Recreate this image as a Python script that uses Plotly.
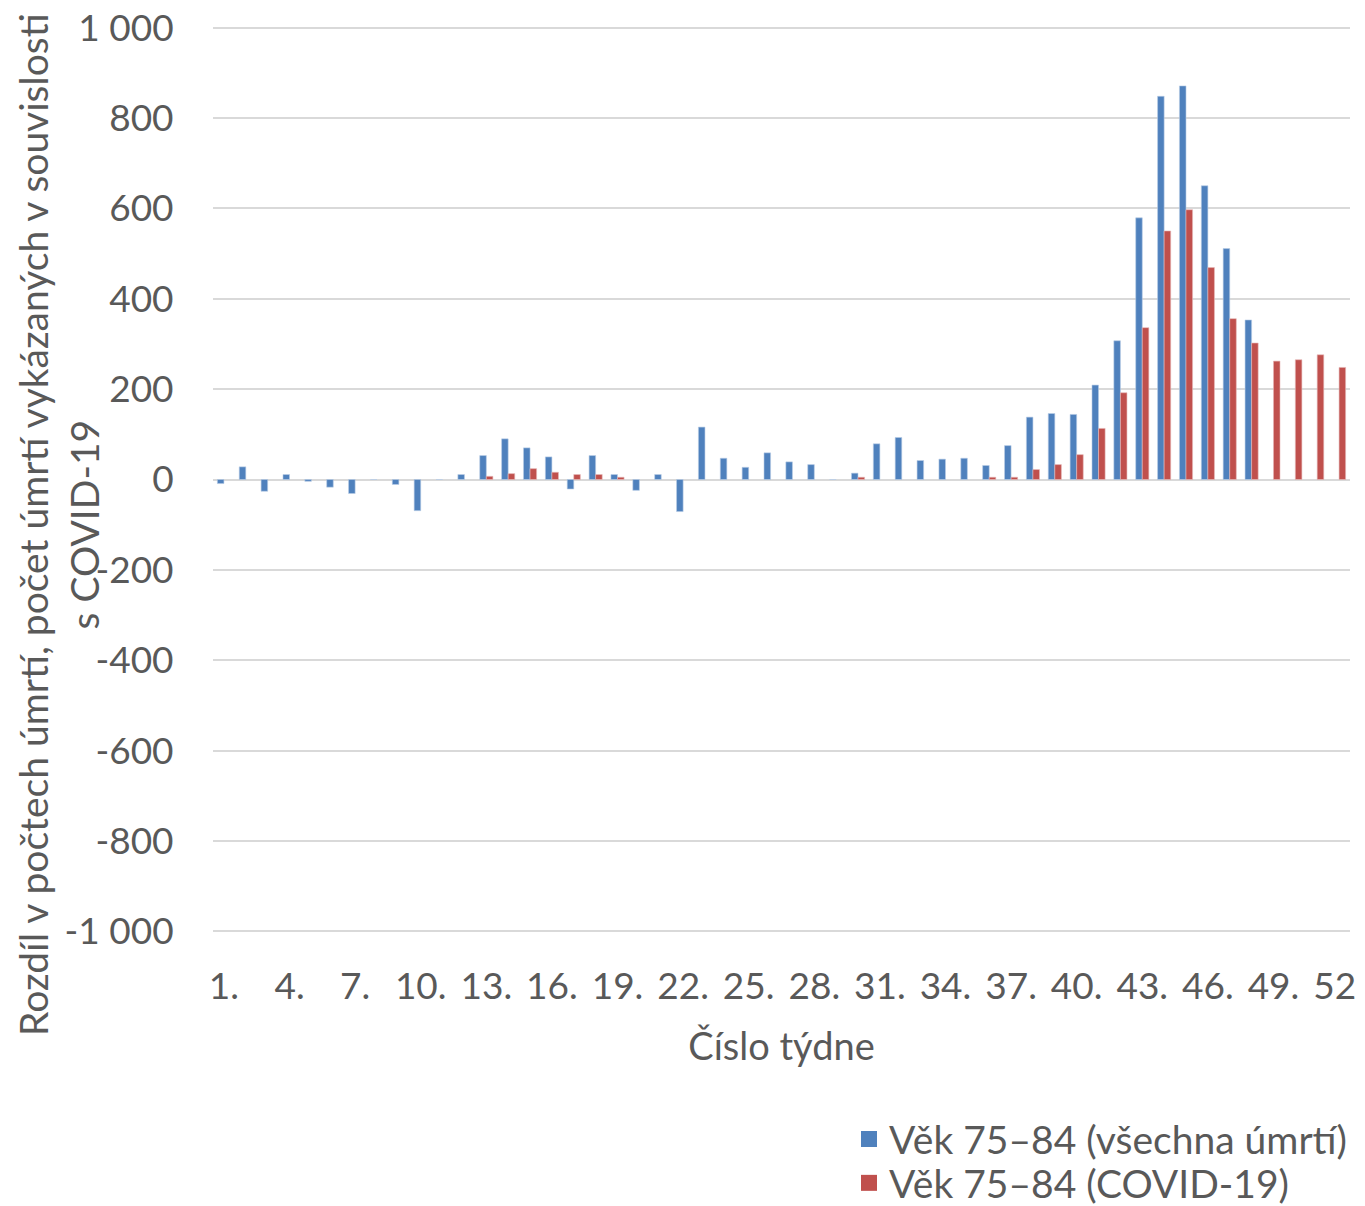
import plotly.graph_objects as go

weeks = list(range(1, 53))
all_deaths = [-9, 28, -26, 11, -4, -17, -31, 0, -11, -69, 0, 11, 53, 90, 70, 50, -21, 53,
              11, -24, 11, -71, 116, 47, 27, 59, 39, 33, 0, 14, 79, 93, 42, 45, 47, 31,
              75, 138, 146, 144, 209, 307, 579, 848, 871, 650, 511, 353,
              None, None, None, None]
covid = [None] * 12 + [7, 13, 24, 16, 11, 11, 5, None, None, None, None, None, None, None,
                       None, None, None, 5, None, None, None, None, None, 5,
                       5, 22, 33, 55, 113, 192, 336, 550, 597, 469, 356, 302,
                       262, 265, 276, 248]
tick_weeks = list(range(1, 53, 3))
tick_text = [f"{w}." for w in tick_weeks]
y_vals = [1000, 800, 600, 400, 200, 0, -200, -400, -600, -800, -1000]
y_text = ["1 000", "800", "600", "400", "200", "0", "-200", "-400", "-600", "-800", "-1 000"]
names = ["Věk 75–84 (všechna úmrtí)", "Věk 75–84 (COVID-19)"]
colors = ["#4F81BD", "#C0504D"]

FONT = "Lato"
GREY = "#595959"

fig = go.Figure()
fig.add_trace(go.Bar(x=weeks, y=all_deaths, name=names[0], showlegend=False,
                     marker=dict(color=colors[0], line=dict(color="#B9CDE5", width=0.6))))
fig.add_trace(go.Bar(x=weeks, y=covid, name=names[1], showlegend=False,
                     marker=dict(color=colors[1], line=dict(color="#E6B9B8", width=0.6))))
# legend entries (larger square swatches), one legend box per entry for exact spacing
for nm, c, lg in zip(names, colors, ["legend", "legend2"]):
    fig.add_trace(go.Scatter(x=[None], y=[None], mode="markers", name=nm, legend=lg,
                             marker=dict(symbol="square", size=22, color=c)))

legend_style = dict(x=(849 - 213) / 1137, xanchor="left", yanchor="top",
                    font=dict(size=39, color=GREY), bgcolor="rgba(0,0,0,0)",
                    itemwidth=30, itemsizing="trace")

# page body has an 8px default margin; figure sized to fill the window from there
fig.update_layout(
    width=1357, height=1198,
    margin=dict(l=205, r=15, t=16, b=271, autoexpand=False),
    paper_bgcolor="white", plot_bgcolor="white",
    font=dict(family=FONT, color=GREY, size=37),
    barmode="group", bargap=0.4, bargroupgap=0,
    showlegend=True,
    legend=dict(y=-0.189, **legend_style),
    legend2=dict(y=-0.2371, **legend_style),
)
fig.update_xaxes(range=[0.5, 52.5], tickmode="array", tickvals=tick_weeks, ticktext=tick_text,
                 showgrid=False, showline=False, zeroline=False, automargin=False,
                 ticklabeloverflow="allow",
                 ticks="outside", ticklen=19, tickcolor="rgba(0,0,0,0)",
                 tickfont=dict(size=37, color=GREY),
                 title=dict(text="Číslo týdne", font=dict(size=38, color=GREY), standoff=26))
fig.update_yaxes(range=[-1008, 1008], tickmode="array", tickvals=y_vals, ticktext=y_text,
                 showgrid=True, gridcolor="#D9D9D9", gridwidth=2,
                 zeroline=True, zerolinecolor="#D9D9D9", zerolinewidth=2,
                 showline=False, automargin=False, ticklabeloverflow="allow",
                 ticks="outside", ticklen=31, tickcolor="rgba(0,0,0,0)",
                 tickfont=dict(size=37, color=GREY))

plot_h = 1198 - 16 - 271
plot_bottom = 8 + 16 + plot_h
fig.add_annotation(
    text="Rozdíl v počtech úmrtí, počet úmrtí vykázaných v souvislosti<br>s COVID-19",
    textangle=-90, xref="paper", yref="paper",
    x=(58 - 213) / 1137, y=(plot_bottom - 525) / plot_h, xanchor="center", yanchor="middle",
    showarrow=False, font=dict(family=FONT, size=39, color=GREY), align="center")

fig.add_shape(type="line", xref="paper", yref="paper",
              x0=(1 - 213) / 1137, x1=(1 - 213) / 1137,
              y0=(plot_bottom - 0) / plot_h, y1=(plot_bottom - 1206) / plot_h,
              line=dict(color="#D9D9D9", width=1))

fig.write_html("out.html")
